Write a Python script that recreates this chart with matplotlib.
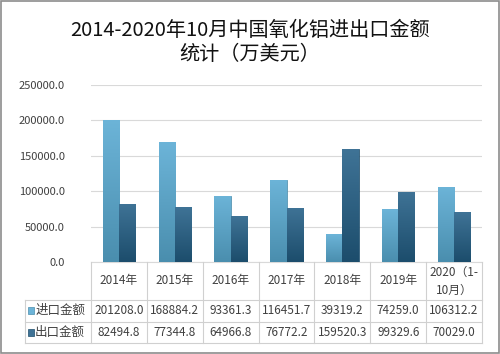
import numpy as np
import matplotlib.pyplot as plt
from matplotlib.colors import LinearSegmentedColormap
from matplotlib.patches import Rectangle

plt.rcParams['font.family'] = ['Noto Sans CJK SC', 'DejaVu Sans']

years = ['2014年', '2015年', '2016年', '2017年', '2018年', '2019年', '2020（1-\n10月）']
imports = [201208.0, 168884.2, 93361.3, 116451.7, 39319.2, 74259.0, 106312.2]
exports = [82494.8, 77344.8, 64966.8, 76772.2, 159520.3, 99329.6, 70029.0]
series_names = ['进口金额', '出口金额']

c_imp = ('#6cb4d8', '#4a8eae')
c_exp = ('#3f7396', '#1c4d6c')
txt = '#404040'
grid_c = '#d9d9d9'

fig = plt.figure(figsize=(5.0, 3.54), dpi=100)
fig.patches.append(Rectangle((0.002, 0.002), 0.996, 0.995, transform=fig.transFigure,
                             fill=False, edgecolor='#8c8c8c', linewidth=1.2))

fig.text(0.5, 0.915, '2014-2020年10月中国氧化铝进出口金额', ha='center', va='center',
         fontsize=14.5, color='#111111')
fig.text(0.5, 0.845, '统计（万美元）', ha='center', va='center',
         fontsize=14.5, color='#111111')

ax = fig.add_axes([0.182, 0.260, 0.782, 0.500])
x = np.arange(len(years))
w = 0.29


def gradient_bars(bars, cols):
    cmap = LinearSegmentedColormap.from_list('g', [cols[1], cols[0]])
    grad = np.linspace(0, 1, 100).reshape(-1, 1)
    for b in bars:
        x0, y0 = b.get_x(), b.get_y()
        bw, bh = b.get_width(), b.get_height()
        im = ax.imshow(grad, cmap=cmap, origin='lower', aspect='auto',
                       extent=(x0, x0 + bw, y0, y0 + bh), zorder=3)
        im.set_clip_path(b)
        b.set_facecolor('none')


b1 = ax.bar(x - w / 2, imports, w, edgecolor=c_imp[1], linewidth=0.6, zorder=3)
b2 = ax.bar(x + w / 2, exports, w, edgecolor=c_exp[1], linewidth=0.6, zorder=3)
gradient_bars(b1, c_imp)
gradient_bars(b2, c_exp)

ax.set_xlim(-0.5, len(years) - 0.5)
ax.set_ylim(0, 250000)
ax.set_yticks(np.arange(0, 250001, 50000))
ax.set_yticklabels([f'{v:.1f}' for v in np.arange(0, 250001, 50000)], fontsize=8, color=txt)
ax.tick_params(axis='y', length=0, pad=19)
ax.set_xticks([])
ax.grid(axis='y', color=grid_c, linewidth=0.8, zorder=0)
for s in ['top', 'right', 'left']:
    ax.spines[s].set_visible(False)
ax.spines['bottom'].set_color(grid_c)

# data table under the chart
tab = fig.add_axes([0.182, 0.031, 0.782, 0.229])
tab.set_xlim(-0.5, len(years) - 0.5)
tab.set_ylim(81, 0)
tab.axis('off')
left = -1.68
rows = [0, 38, 59.5, 81]
lc = '#d0d0d0'
tab.plot([-0.5, -0.5], [0, 81], color=lc, lw=0.8, clip_on=False)
tab.plot([left, left], [38, 81], color=lc, lw=0.8, clip_on=False)
for xi in range(len(years)):
    tab.plot([xi + 0.5, xi + 0.5], [0, 81], color=lc, lw=0.8, clip_on=False)
for yy in rows[1:]:
    tab.plot([left, len(years) - 0.5], [yy, yy], color=lc, lw=0.8, clip_on=False)
for xi, yr in enumerate(years):
    tab.text(xi, 19, yr, ha='center', va='center', fontsize=8.5, color=txt, linespacing=1.5)
for r, (name, vals, cols) in enumerate([(series_names[0], imports, c_imp),
                                         (series_names[1], exports, c_exp)]):
    yc = (rows[r + 1] + rows[r + 2]) / 2
    tab.add_patch(Rectangle((left + 0.05, yc - 3.5), 0.11, 7, facecolor=cols[0],
                            edgecolor=cols[1], lw=0.5, clip_on=False))
    tab.text(left + 0.18, yc, name, ha='left', va='center', fontsize=9, color=txt)
    for xi, v in enumerate(vals):
        tab.text(xi, yc, f'{v:.1f}', ha='center', va='center', fontsize=8.5, color=txt)

fig.savefig('out.png', dpi=100)
